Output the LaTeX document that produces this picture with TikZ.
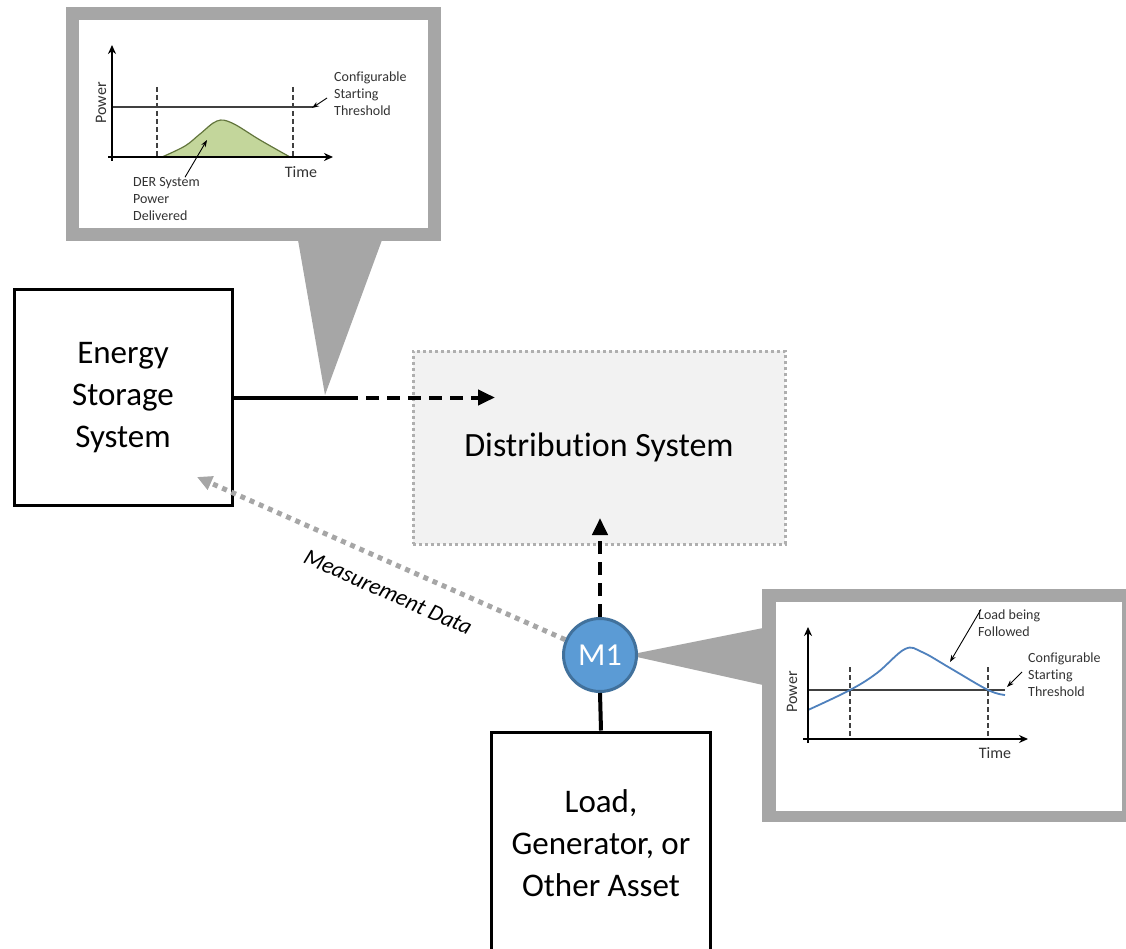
\documentclass[tikz,border=0pt]{standalone}
\usepackage{fontspec}
\setmainfont{Carlito}[Ligatures=NoCommon]
\usetikzlibrary{arrows.meta,positioning}
\definecolor{callgray}{RGB}{166,166,166}
\definecolor{distfill}{RGB}{242,242,242}
\definecolor{distedge}{RGB}{175,175,175}
\definecolor{mblue}{RGB}{91,155,213}
\definecolor{medge}{RGB}{65,113,156}
\definecolor{dergreen}{RGB}{195,214,155}
\definecolor{deredge}{RGB}{98,117,60}
\definecolor{loadblue}{RGB}{79,129,189}

\begin{document}
\begin{tikzpicture}[x=1pt,y=-1pt,
  box/.style={draw,line width=3pt,align=center,font=\fontsize{33}{42}\selectfont},
  flow/.style={line width=4pt,dash pattern=on 13pt off 8pt,-{Triangle[length=17pt,width=15pt]}},
  meas/.style={draw=callgray,line width=5pt,dash pattern=on 5pt off 5pt,-{Triangle[length=15pt,width=14pt]}},
  small/.style={font=\fontsize{14}{17}\selectfont,text=black!80,align=left,inner sep=0pt,anchor=west},
  axlabel/.style={font=\fontsize{16}{19}\selectfont,text=black!80,inner sep=0pt},
  axis/.style={line width=2.2pt,-{Stealth[length=9pt,width=8pt]}},
  thresh/.style={line width=1.2pt,black!75},
  guide/.style={line width=1.3pt,black!75,dash pattern=on 5pt off 3pt},
  pointer/.style={line width=0.9pt,-{Stealth[length=7pt,width=5pt]}}]
\useasboundingbox (0,0) rectangle (1126,949);
\fill[callgray] (298,240) -- (382,240) -- (325,395) -- cycle;
\fill[callgray] (66,7) rectangle (441,241);
\fill[white] (79,20) rectangle (428,228);
\fill[callgray] (628,655) -- (763,628) -- (763,685) -- cycle;
\fill[callgray] (762,589) rectangle (1136,822);
\fill[white] (776,602) rectangle (1122,811);
% DER chart
\draw[thresh] (112,107) -- (313,107);
\foreach \x in {157,293}{\draw[guide] (\x,87) -- (\x,157);}
\filldraw[fill=dergreen,draw=deredge,line width=1.2pt] plot[smooth,tension=0.6] coordinates {(162,157) (185,146) (200,134) (217,121) (232,123) (260,140) (290,157)} -- cycle;
\draw[axis] (112,161) -- (112,45);
\draw[axis] (108,157) -- (333,157);
\node[axlabel,rotate=90] (pow1) at (101,103) {Power};
\node[axlabel] (time1) at (301,172) {Time};
\node[small] (thr1) at (334,94) {Configurable\\Starting\\Threshold};
\node[small] (der) at (133,199) {DER System\\Power\\Delivered};
\coordinate (hump) at (207,140);
\coordinate (lvl1) at (312,108);
\draw[pointer] ([xshift=52pt]der.north west) -- (hump);
\draw[pointer] ([xshift=-7pt,yshift=-4pt]thr1.west) -- (lvl1);
% load chart
\draw[thresh] (808,690) -- (1005,690);
\foreach \x in {850,988}{\draw[guide] (\x,667) -- (\x,739);}
\draw[loadblue,line width=1.8pt] plot[smooth,tension=0.6] coordinates {(808,710) (850,690) (877,673) (905,649) (922,652) (950,668) (988,690) (1005,695)};
\draw[axis] (808,743) -- (808,627);
\draw[axis] (803,739) -- (1028,739);
\node[axlabel,rotate=90] (pow2) at (792,692) {Power};
\node[axlabel] (time2) at (995,753) {Time};
\node[small] (thr2) at (1028,675) {Configurable\\Starting\\Threshold};
\node[small] (follow) at (978,623) {Load being\\Followed};
\coordinate (slope) at (950,662);
\coordinate (lvl2) at (1007,687);
\draw[pointer] ([xshift=3pt]follow.north west) -- (slope);
\draw[pointer] ([xshift=-6pt,yshift=3pt]thr2.west) -- (lvl2);
% system
\node[draw=distedge,fill=distfill,line width=3pt,dash pattern=on 3pt off 3pt,minimum width=372pt,minimum height=193pt,font=\fontsize{34}{42}\selectfont] (dist) at (599,447.5) {Distribution System};
\node[box,minimum width=218pt,minimum height=215pt] (ess) at (123,397.5) {Energy\\Storage\\System};
\node[box,minimum width=219pt,minimum height=222pt] (load) at (601,843) {Load,\\Generator, or\\Other Asset};
\node[circle,fill=mblue,draw=medge,line width=3pt,minimum size=73pt,inner sep=0pt,text=white,font=\fontsize{32}{36}\selectfont] (m1) at (600,655) {M1};
\coordinate (split) at (345,397.5);
\coordinate (esstip) at (495,397.5);
\coordinate (disttip) at (600,518);
\coordinate (mtip) at (197,477);
\draw[line width=4pt] (ess.east) -- (split);
\draw[flow] (split) -- (esstip);
\draw[flow] (m1.north) -- (disttip);
\draw[line width=4pt] (m1.south) -- (load.north);
\draw[meas] (m1) -- (mtip) node[pos=0.45,sloped,below=15pt,font=\fontsize{23}{27}\selectfont\itshape,text=black] (mdata) {Measurement Data};
\end{tikzpicture}
\end{document}
